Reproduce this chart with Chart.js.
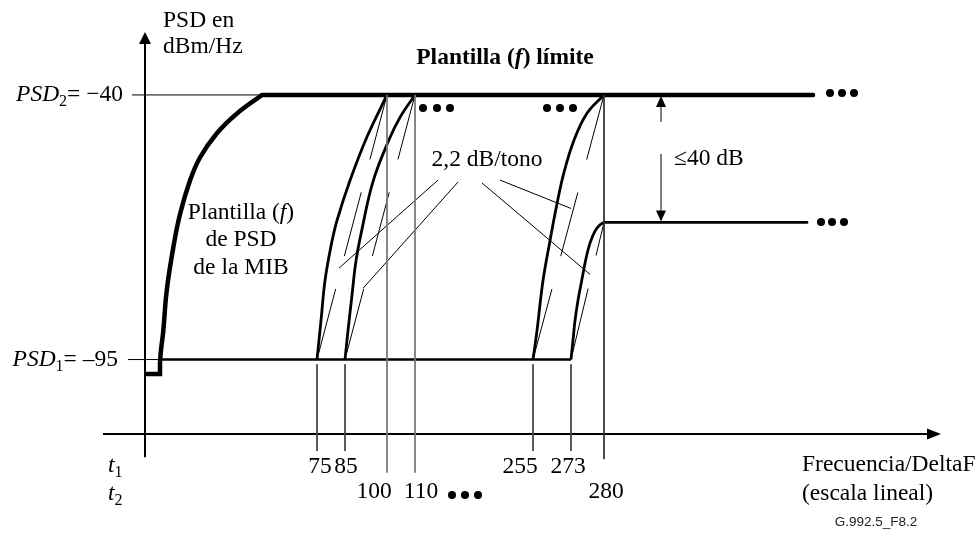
<!DOCTYPE html>
<html>
<head>
<meta charset="utf-8">
<script src="https://cdn.jsdelivr.net/npm/chart.js@4/dist/chart.umd.min.js"></script>
<style>
body{margin:0;background:#fff}
canvas{display:block}
</style>
</head>
<body>
<canvas id="chart" width="980" height="537"></canvas>
<script>
// tones marked under the frequency axis (t1 row, t2 row)
const tonesT1 = [75, 85, 255, 273];
const tonesT2 = [100, 110, 280];
// where the tones sit on the drawn axis (figure is schematic, not to scale)
const posT1 = [172, 200, 388, 426];
const posT2 = [242, 270, 459];

// PSD levels in dBm/Hz
const psd1 = -95;
const psd2 = -40;
const psdStep = -66.5;

// MIB PSD mask (thick curve)
const mibStepX = [0, 15, 15];
const mibStepY = [-98, -98, -95.5];
const mibX = [15, 16, 18.3, 21.7, 28.3, 35, 45, 55, 71.7, 91.7, 117];
const mibY = [-95.5, -93, -89, -80.7, -71.7, -64.8, -57.8, -53, -48, -43.9, -40];
const mibEndX = 668;

// 2,2 dB/tono transitions
const c75X = [172, 176, 180, 186, 192, 205, 221.7, 242];
const c75Y = [-95, -86.9, -78.6, -71.4, -66.1, -57.8, -48.85, -40];
const c85X = [200, 203, 206.7, 211, 216.7, 228.3, 245, 256, 270];
const c85Y = [-95, -89, -82.2, -74.5, -68.2, -57.8, -48.85, -44.3, -40];
const c255X = [388, 392, 398, 405, 412, 419, 429, 442, 459];
const c255Y = [-95, -89, -78.6, -70.3, -62.6, -56.1, -49.4, -43.8, -40];
const c273X = [426, 428, 430, 433, 436.7, 441, 445, 450, 455, 459];
const c273Y = [-95, -91, -86.9, -82.7, -78.6, -74, -70.8, -68.3, -67, -66.5];
const stepEndX = 662;

function line(xs, ys, w, extra) {
  return Object.assign({
    data: xs.map((x, i) => ({x: x, y: ys[i]})),
    showLine: true, borderColor: '#000', borderWidth: w,
    pointRadius: 0, fill: false, tension: 0, borderCapStyle: 'butt'
  }, extra || {});
}
const smooth = {tension: 0.4};
const dash = {borderDash: [66, 34], borderDashOffset: 93};

var datasets = [];
// reference lines at PSD2 / PSD1
datasets.push(line([-13, 117], [psd2, psd2], 1));
datasets.push(line([-17, 15], [psd1, psd1], 1));
// tone tick lines
posT1.forEach(x => datasets.push(line([x, x], [-96, -114], 1, {borderColor: '#444'})));
posT2.forEach((x, i) => datasets.push(line([x, x], [psd2, i < 2 ? -118.5 : -115.7], 1, {borderColor: i < 2 ? '#777' : '#333'})));
// slope chords
datasets.push(line([172, 242], [psd1, psd2], 1, dash));
datasets.push(line([200, 270], [psd1, psd2], 1, dash));
datasets.push(line([388, 459], [psd1, psd2], 1, dash));
datasets.push(line([426, 459], [psd1, psdStep], 1, dash));
// leader lines from "2,2 dB/tono"
datasets.push(line([293, 194], [-57.7, -76], 1));
datasets.push(line([313, 218], [-58.1, -80.2], 1));
datasets.push(line([337, 445], [-58.3, -77.3], 1));
datasets.push(line([355, 426], [-57.7, -63.6], 1));
// PSD1 floor
datasets.push(line([15, 426], [psd1, psd1], 2.5));
// transitions
datasets.push(line(c75X, c75Y, 2.8, smooth));
datasets.push(line(c85X, c85Y, 2.8, smooth));
datasets.push(line(c255X, c255Y, 2.8, smooth));
datasets.push(line(c273X, c273Y, 2.8, smooth));
datasets.push(line([459, stepEndX], [psdStep, psdStep], 2.8, {borderCapStyle: 'round'}));
// MIB mask
datasets.push(line(mibStepX, mibStepY, 4.5));
datasets.push(line(mibX, mibY, 4.5, smooth));
datasets.push(line([117, mibEndX], [psd2, psd2], 4.5, {borderCapStyle: 'round'}));

const SERIF = '"Liberation Serif", "Times New Roman", serif';
const F = '23.5px ' + SERIF, FI = 'italic 23.5px ' + SERIF, FS = '16px ' + SERIF;
const FB = 'bold 23.5px ' + SERIF, FBI = 'bold italic 23.5px ' + SERIF;

function rich(ctx, parts, x, y, align) {
  var w = 0;
  parts.forEach(p => { ctx.font = p[1]; w += ctx.measureText(p[0]).width; });
  var cx = align === 'right' ? x - w : align === 'center' ? x - w / 2 : x;
  parts.forEach(p => {
    ctx.font = p[1];
    ctx.fillText(p[0], cx, y + (p[2] || 0));
    cx += ctx.measureText(p[0]).width;
  });
}

function dots(ctx, pts) {
  pts.forEach(p => { ctx.beginPath(); ctx.arc(p[0], p[1], 4, 0, Math.PI * 2); ctx.fill(); });
}

const axesPlugin = {
  id: 'axes',
  beforeDatasetsDraw(chart) {
    const ctx = chart.ctx, sx = chart.scales.x, sy = chart.scales.y;
    const x0 = sx.getPixelForValue(0), yAxis = sy.getPixelForValue(-110.5);
    ctx.save();
    ctx.strokeStyle = '#000'; ctx.fillStyle = '#000'; ctx.lineWidth = 2;
    // frequency axis
    const xEnd = sx.getPixelForValue(796);
    ctx.beginPath(); ctx.moveTo(sx.getPixelForValue(-42), yAxis); ctx.lineTo(xEnd - 12, yAxis); ctx.stroke();
    ctx.beginPath(); ctx.moveTo(xEnd, yAxis); ctx.lineTo(xEnd - 14, yAxis - 5.5); ctx.lineTo(xEnd - 14, yAxis + 5.5); ctx.closePath(); ctx.fill();
    // PSD axis
    const yTop = sy.getPixelForValue(-26.9);
    ctx.beginPath(); ctx.moveTo(x0, sy.getPixelForValue(-115.3)); ctx.lineTo(x0, yTop + 10); ctx.stroke();
    ctx.beginPath(); ctx.moveTo(x0, yTop); ctx.lineTo(x0 - 6, yTop + 12); ctx.lineTo(x0 + 6, yTop + 12); ctx.closePath(); ctx.fill();
    ctx.restore();
  },
  afterDatasetsDraw(chart) {
    const ctx = chart.ctx, sx = chart.scales.x, sy = chart.scales.y;
    ctx.save();
    ctx.fillStyle = '#000'; ctx.strokeStyle = '#000';
    ctx.textBaseline = 'middle'; ctx.textAlign = 'left';

    rich(ctx, [['Plantilla (', FB], ['f', FBI], [') límite', FB]], 505, 58, 'center');
    rich(ctx, [['PSD en', F]], 163, 21, 'left');
    rich(ctx, [['dBm/Hz', F]], 163, 47, 'left');
    rich(ctx, [['PSD', FI], ['2', FS, 7], ['= \u221240', F]], 123, sy.getPixelForValue(psd2), 'right');
    rich(ctx, [['PSD', FI], ['1', FS, 7], ['= \u201395', F]], 118, sy.getPixelForValue(psd1), 'right');
    rich(ctx, [['Plantilla (', F], ['f', FI], [')', F]], 241, 213, 'center');
    rich(ctx, [['de PSD', F]], 241, 240, 'center');
    rich(ctx, [['de la MIB', F]], 241, 268, 'center');
    rich(ctx, [['2,2 dB/tono', F]], 487, 160, 'center');
    rich(ctx, [['\u226440 dB', F]], 674, 159, 'left');
    rich(ctx, [['t', FI], ['1', FS, 7]], 108, 466, 'left');
    rich(ctx, [['t', FI], ['2', FS, 7]], 108, 494, 'left');
    rich(ctx, [['Frecuencia/DeltaF', F]], 802, 465, 'left');
    rich(ctx, [['(escala lineal)', F]], 802, 494, 'left');

    const shift = {75: 3, 85: 1, 255: -13, 273: -3, 100: -13, 110: 6, 280: 2};
    tonesT1.forEach((t, i) => rich(ctx, [[String(t), F]], sx.getPixelForValue(posT1[i]) + (shift[t] || 0), 467, 'center'));
    tonesT2.forEach((t, i) => rich(ctx, [[String(t), F]], sx.getPixelForValue(posT2[i]) + (shift[t] || 0), 492, 'center'));

    ctx.font = '13.5px "Liberation Sans", Arial, sans-serif';
    ctx.textAlign = 'center';
    ctx.fillStyle = '#222';
    ctx.fillText('G.992.5_F8.2', 876, 522);
    ctx.textAlign = 'left';
    ctx.fillStyle = '#000';

    // continuation dots
    dots(ctx, [[830, 93], [842, 93], [854, 93], [821, 222], [832, 222], [844, 222],
               [423, 108], [437, 108], [450, 108], [547, 108], [560, 108], [573, 108],
               [452, 495], [465, 495], [478, 495]]);

    // <=40 dB double arrow
    const ax = sx.getPixelForValue(516), top = sy.getPixelForValue(psd2), bot = sy.getPixelForValue(psdStep);
    ctx.lineWidth = 1;
    ctx.beginPath(); ctx.moveTo(ax, top + 10); ctx.lineTo(ax, top + 27); ctx.stroke();
    ctx.beginPath(); ctx.moveTo(ax, top + 59); ctx.lineTo(ax, bot - 10); ctx.stroke();
    ctx.beginPath(); ctx.moveTo(ax, top + 1); ctx.lineTo(ax - 5, top + 12); ctx.lineTo(ax + 5, top + 12); ctx.closePath(); ctx.fill();
    ctx.beginPath(); ctx.moveTo(ax, bot - 1); ctx.lineTo(ax - 5, bot - 12); ctx.lineTo(ax + 5, bot - 12); ctx.closePath(); ctx.fill();
    ctx.restore();
  }
};

new Chart(document.getElementById('chart').getContext('2d'), {
  type: 'scatter',
  data: {datasets: datasets},
  options: {
    responsive: false,
    animation: false,
    layout: {padding: {left: 103, right: 35, top: 30, bottom: 62}},
    scales: {
      x: {type: 'linear', min: -42, max: 800, display: false},
      y: {type: 'linear', min: -119, max: -26.5, display: false}
    },
    plugins: {legend: {display: false}, tooltip: {enabled: false}},
    events: []
  },
  plugins: [axesPlugin]
});
</script>
</body>
</html>
